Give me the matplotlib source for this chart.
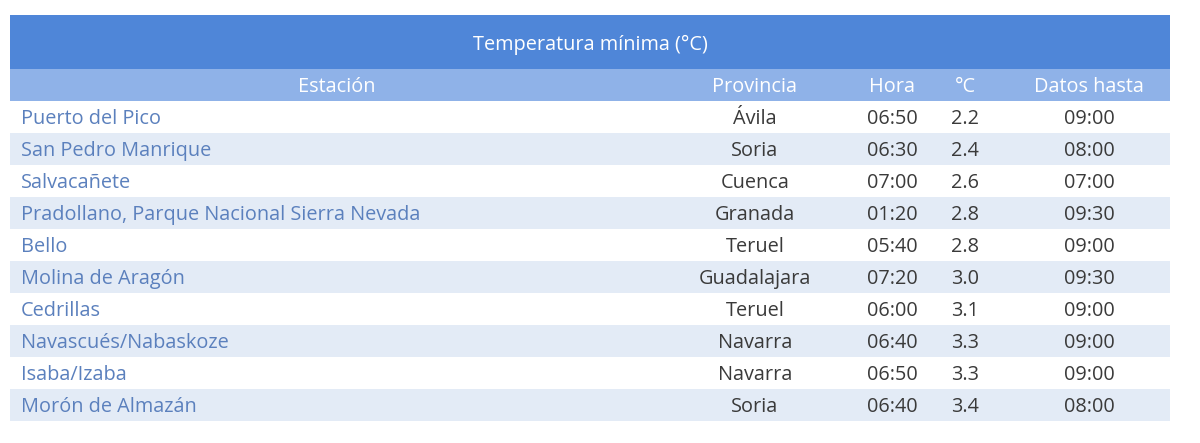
import matplotlib.pyplot as plt
from matplotlib.patches import Rectangle

title = "Temperatura mínima (°C)"
headers = ["Estación", "Provincia", "Hora", "°C", "Datos hasta"]
estaciones = ["Puerto del Pico", "San Pedro Manrique", "Salvacañete",
              "Pradollano, Parque Nacional Sierra Nevada", "Bello", "Molina de Aragón",
              "Cedrillas", "Navascués/Nabaskoze", "Isaba/Izaba", "Morón de Almazán"]
provincias = ["Ávila", "Soria", "Cuenca", "Granada", "Teruel", "Guadalajara",
              "Teruel", "Navarra", "Navarra", "Soria"]
horas = ["06:50", "06:30", "07:00", "01:20", "05:40", "07:20", "06:00", "06:40", "06:50", "06:40"]
temps = [2.2, 2.4, 2.6, 2.8, 2.8, 3.0, 3.1, 3.3, 3.3, 3.4]
datos_hasta = ["09:00", "08:00", "07:00", "09:30", "09:00", "09:30", "09:00", "09:00", "09:00", "08:00"]

plt.rcParams['font.family'] = ['Open Sans', 'DejaVu Sans']

fig = plt.figure(figsize=(12, 4.43), dpi=100)
ax = fig.add_axes([0, 0, 1, 1])
ax.set_xlim(0, 1200)
ax.set_ylim(443, 0)
ax.axis('off')

left, right = 10, 1170
title_top, title_h, head_h, row_h = 15, 54, 32, 32
col_x = [337, 755, 892, 965, 1089]
fs = 14.3

ax.add_patch(Rectangle((left, title_top), right - left, title_h, color='#4f86d8', lw=0))
ax.text((left + right) / 2, title_top + title_h / 2 + 3, title, color='white',
        fontsize=fs, ha='center', va='center')

head_top = title_top + title_h
ax.add_patch(Rectangle((left, head_top), right - left, head_h, color='#8fb2e8', lw=0))
for x, h in zip(col_x, headers):
    ax.text(x, head_top + head_h / 2 + 2, h, color='white', fontsize=fs, ha='center', va='center')

text_col = '#3a3a3a'
for i in range(len(estaciones)):
    y0 = head_top + head_h + i * row_h
    if i % 2 == 1:
        ax.add_patch(Rectangle((left, y0), right - left, row_h, color='#e3ebf6', lw=0))
    yc = y0 + row_h / 2 + 2
    ax.text(21, yc, estaciones[i], color='#5b80bd', fontsize=fs, ha='left', va='center')
    ax.text(col_x[1], yc, provincias[i], color=text_col, fontsize=fs, ha='center', va='center')
    ax.text(col_x[2], yc, horas[i], color=text_col, fontsize=fs, ha='center', va='center')
    ax.text(col_x[3], yc, f"{temps[i]:.1f}", color=text_col, fontsize=fs, ha='center', va='center')
    ax.text(col_x[4], yc, datos_hasta[i], color=text_col, fontsize=fs, ha='center', va='center')

fig.savefig('out.png', dpi=100, facecolor='white')
